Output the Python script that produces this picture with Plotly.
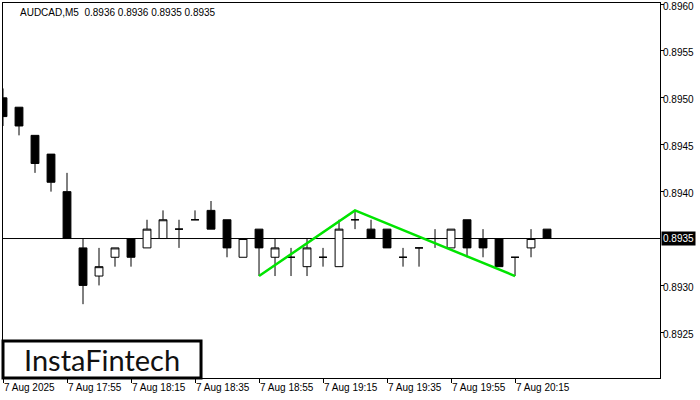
import plotly.graph_objects as go

# ---- data (AUDCAD M5, 7 Aug 2025, 17:35 .. 20:25) ----
bar_index = list(range(35))
opens = [0.8950, 0.8949, 0.8946, 0.8944, 0.8940, 0.8934, 0.8931, 0.8933, 0.8935, 0.8934,
         0.8935, 0.8936, 0.8937, 0.8938, 0.8937, 0.8933, 0.8936, 0.8933, 0.8933, 0.8932,
         0.8933, 0.8932, 0.8937, 0.8936, 0.8936, 0.8933, 0.8934, 0.8935, 0.8934, 0.8937,
         0.8935, 0.8935, 0.8933, 0.8934, 0.8936]
highs = [0.8951, 0.8949, 0.8946, 0.8944, 0.8942, 0.8935, 0.8934, 0.8934, 0.8935, 0.8937,
         0.8938, 0.8937, 0.8938, 0.8939, 0.8937, 0.8935, 0.8936, 0.8935, 0.8934, 0.8935,
         0.8934, 0.8937, 0.8938, 0.8937, 0.8936, 0.8934, 0.8934, 0.8936, 0.8936, 0.8937,
         0.8936, 0.8935, 0.8933, 0.8936, 0.8936]
lows = [0.8947, 0.8946, 0.8942, 0.8940, 0.8935, 0.8928, 0.8930, 0.8932, 0.8932, 0.8934,
        0.8935, 0.8934, 0.8937, 0.8936, 0.8933, 0.8933, 0.8931, 0.8931, 0.8931, 0.8931,
        0.8932, 0.8932, 0.8936, 0.8935, 0.8934, 0.8932, 0.8932, 0.8934, 0.8934, 0.8933,
        0.8933, 0.8932, 0.8931, 0.8933, 0.8935]
closes = [0.8948, 0.8947, 0.8943, 0.8941, 0.8935, 0.8930, 0.8932, 0.8934, 0.8933, 0.8936,
          0.8937, 0.8936, 0.8937, 0.8936, 0.8934, 0.8935, 0.8934, 0.8934, 0.8933, 0.8934,
          0.8933, 0.8936, 0.8937, 0.8935, 0.8934, 0.8933, 0.8934, 0.8935, 0.8936, 0.8934,
          0.8934, 0.8932, 0.8933, 0.8935, 0.8935]

pattern_x = [16, 22, 32]
pattern_y = [0.8931, 0.8938, 0.8931]

current_price = 0.8935

tick_positions = [0, 4, 8, 12, 16, 20, 24, 28, 32]
tick_labels = ["7 Aug 2025", "7 Aug 17:55", "7 Aug 18:15", "7 Aug 18:35", "7 Aug 18:55",
               "7 Aug 19:15", "7 Aug 19:35", "7 Aug 19:55", "7 Aug 20:15"]
price_ticks = [0.8925, 0.8930, 0.8935, 0.8940, 0.8945, 0.8950, 0.8955, 0.8960]

header_text = "AUDCAD,M5\u00a0 0.8936 0.8936 0.8935 0.8935"
logo_text = "InstaFintech"

AX_FONT = dict(family="Liberation Sans, Arial, sans-serif", size=10, color="black")

# the current-price label replaces the regular tick label at that level
axis_ticks = [p for p in price_ticks if abs(p - current_price) > 1e-9]

fig = go.Figure()
fig.add_trace(go.Candlestick(
    x=bar_index, open=opens, high=highs, low=lows, close=closes,
    increasing=dict(line=dict(color="black", width=1), fillcolor="white"),
    decreasing=dict(line=dict(color="black", width=1), fillcolor="black"),
    whiskerwidth=0, showlegend=False, hoverinfo="skip",
))
fig.add_trace(go.Scatter(
    x=pattern_x, y=pattern_y, mode="lines",
    line=dict(color="#00e400", width=2.5), showlegend=False, hoverinfo="skip",
))

fig.add_shape(type="line", xref="paper", x0=0, x1=1, yref="y", y0=current_price, y1=current_price,
              line=dict(color="black", width=1), layer="below")

fig.add_annotation(xref="paper", x=1, xanchor="left", xshift=1, yref="y", y=current_price,
                   text=f"{current_price:.4f}", showarrow=False, bgcolor="black",
                   font=dict(family="Liberation Sans, Arial, sans-serif", size=10, color="white"),
                   borderpad=1)

fig.add_annotation(xref="paper", x=0, xshift=15, xanchor="left", yref="paper", y=1, yshift=-9,
                   yanchor="middle", text=header_text, showarrow=False, font=AX_FONT)

# logo box
fig.add_shape(type="rect", xref="paper", yref="paper", x0=0, x1=0.3014, y0=0, y1=0.0987,
              line=dict(color="black", width=3), fillcolor="white", layer="above")
fig.add_annotation(xref="paper", yref="paper", x=0.1507, y=0.049, xanchor="center", yanchor="middle",
                   text=logo_text, showarrow=False,
                   font=dict(family="Lato, sans-serif", size=29, color="#111111"))

fig.update_xaxes(range=[0, 41.06], showline=True, mirror=True, linecolor="black", linewidth=1,
                 ticks="outside", ticklen=4, tickcolor="black", tickvals=tick_positions,
                 ticktext=tick_labels, ticklabelposition="outside right", showgrid=False,
                 zeroline=False, rangeslider=dict(visible=False), tickfont=AX_FONT,
                 automargin=False)
fig.update_yaxes(range=[0.892013, 0.896011], side="right", showline=True, mirror=True,
                 linecolor="black", linewidth=1, ticks="outside", ticklen=3, tickcolor="black",
                 tickvals=axis_ticks, tickformat=".4f", showgrid=False, zeroline=False,
                 tickfont=AX_FONT, automargin=False, ticklabelstandoff=-3,
                 ticklabeloverflow="allow", ticklabelshift=2)

fig.update_layout(width=700, height=400, margin=dict(l=3, r=40, t=3, b=22),
                  paper_bgcolor="white", plot_bgcolor="white", showlegend=False)

fig.write_html("out.html", config={"displayModeBar": False},
               post_script="document.body.style.margin='0px';document.body.style.padding='0px';")
